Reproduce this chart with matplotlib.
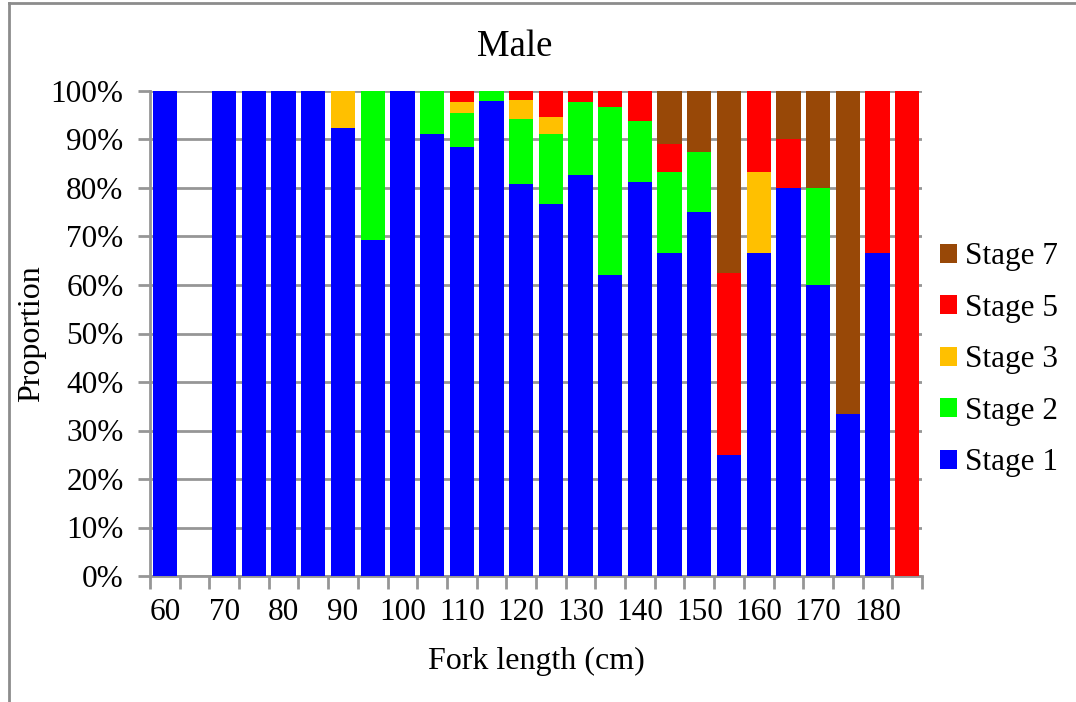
import matplotlib
matplotlib.use("Agg")
import matplotlib.pyplot as plt
import numpy as np
from matplotlib.lines import Line2D

# fork length classes (cm) and percentage of each maturity stage
lengths = [60, 65, 70, 75, 80, 85, 90, 95, 100, 105, 110, 115, 120,
           125, 130, 135, 140, 145, 150, 155, 160, 165, 170, 175, 180, 185]
stage1 = [100, 0, 100, 100, 100, 100, 92.3, 69.2, 100, 91.2, 88.4, 97.9, 80.8,
          76.8, 82.6, 62.1, 81.25, 66.7, 75.0, 25.0, 66.7, 80.0, 60.0, 33.3, 66.7, 0]
stage2 = [0, 0, 0, 0, 0, 0, 0, 30.8, 0, 8.8, 7.0, 2.1, 13.5,
          14.3, 15.2, 34.5, 12.5, 16.7, 12.5, 0, 0, 0, 20.0, 0, 0, 0]
stage3 = [0, 0, 0, 0, 0, 0, 7.7, 0, 0, 0, 2.3, 0, 3.8,
          3.6, 0, 0, 0, 0, 0, 0, 16.7, 0, 0, 0, 0, 0]
stage5 = [0, 0, 0, 0, 0, 0, 0, 0, 0, 0, 2.3, 0, 1.9,
          5.3, 2.2, 3.4, 6.25, 5.6, 0, 37.5, 16.6, 10.0, 0, 0, 33.3, 100]
stage7 = [0, 0, 0, 0, 0, 0, 0, 0, 0, 0, 0, 0, 0,
          0, 0, 0, 0, 11.1, 12.5, 37.5, 0, 10.0, 20.0, 66.7, 0, 0]

stages = [("Stage 1", stage1, "#0000FF"),
          ("Stage 2", stage2, "#00FF00"),
          ("Stage 3", stage3, "#FFC000"),
          ("Stage 5", stage5, "#FF0000"),
          ("Stage 7", stage7, "#984807")]

plt.rcParams['font.family'] = ['Liberation Serif', 'DejaVu Serif']

W, H = 1076, 702
fig = plt.figure(figsize=(W / 100, H / 100), dpi=100)
ax = fig.add_axes([150 / W, 1 - 576 / H, (922 - 150) / W, (576 - 91) / H])

x = np.arange(len(lengths))
bottom = np.zeros(len(lengths))
handles = []
for name, vals, col in stages:
    vals = np.array(vals, dtype=float)
    b = ax.bar(x, vals, width=0.82, bottom=bottom, color=col, label=name, zorder=3)
    bottom += vals
    handles.append(b)

grey = "#969696"
ax.set_xlim(-0.5, len(lengths) - 0.5)
ax.set_ylim(0, 100)
ax.set_yticks(np.arange(0, 101, 10))
ax.set_yticklabels([f"{v}%" for v in range(0, 101, 10)], fontsize=22.5)
ax.yaxis.grid(True, color=grey, linewidth=2, zorder=0)
ax.tick_params(axis='y', length=9, width=2, color=grey, pad=10)

# tick marks at class boundaries, labels under every other class
ax.set_xticks(np.arange(-0.5, len(lengths), 1.0))
ax.set_xticklabels([])
ax.tick_params(axis='x', which='major', length=9, width=2, color=grey)
ax.set_xticks(x[::2], minor=True)
ax.set_xticklabels([str(v) for v in lengths[::2]], minor=True, fontsize=22.5)
ax.tick_params(axis='x', which='minor', length=0, pad=16)

for s in ['top', 'right']:
    ax.spines[s].set_visible(False)
for s in ['left', 'bottom']:
    ax.spines[s].set_color(grey)
    ax.spines[s].set_linewidth(2)

ax.set_xlabel("Fork length (cm)", fontsize=23, labelpad=14)
ax.set_ylabel("Proportion", fontsize=23, labelpad=3)
fig.text(515 / W, 1 - 47 / H, "Male", fontsize=26.5, ha='center', va='center')

leg = ax.legend(handles[::-1], [s[0] for s in stages][::-1],
                loc='upper left', bbox_to_anchor=(934 / W, 1 - 236 / H),
                bbox_transform=fig.transFigure, frameon=False, fontsize=22.5,
                handlelength=0.55, handleheight=0.55, handletextpad=0.25,
                labelspacing=0.72, borderpad=0.2, borderaxespad=0)

# chart area border (left and top edges visible)
fig.add_artist(Line2D([8.5 / W, 8.5 / W], [0, 1 - 2.5 / H], color="#8c8c8c", linewidth=2))
fig.add_artist(Line2D([8.5 / W, 1], [1 - 2.5 / H, 1 - 2.5 / H], color="#8c8c8c", linewidth=2))

fig.savefig("out.png", dpi=100)
